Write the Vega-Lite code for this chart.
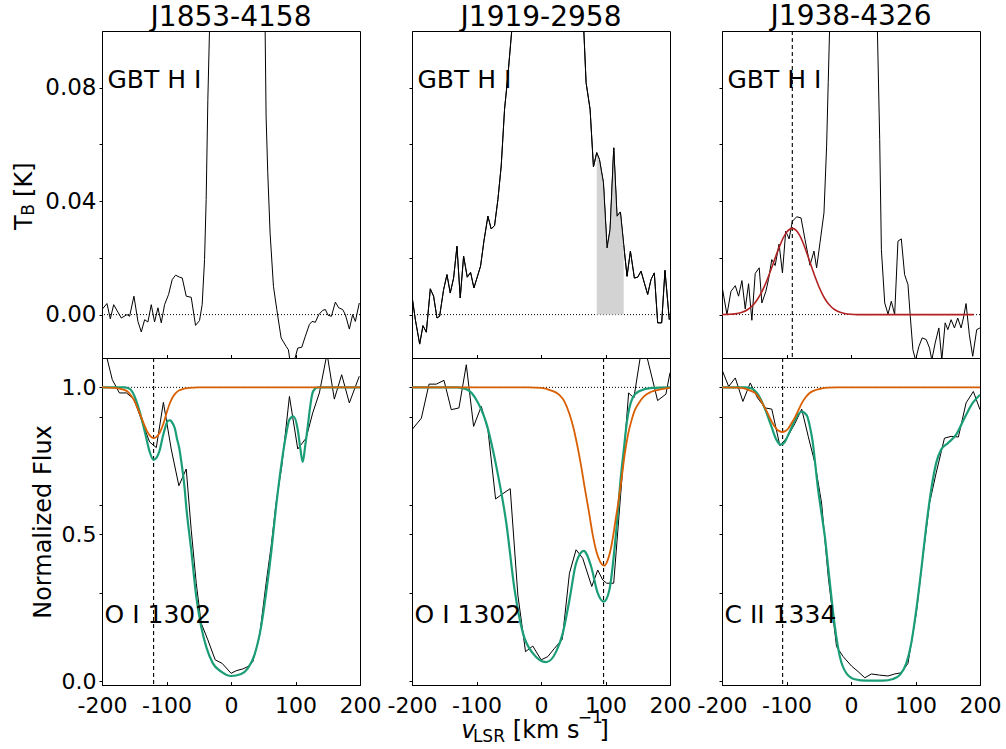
{
"$schema": "https://vega.github.io/schema/vega-lite/v6.json",
"padding": {"left": 12, "top": 2, "right": 0, "bottom": 0},
"config": {
  "font": "DejaVu Sans",
  "view": {"stroke": "black", "strokeWidth": 1},
  "axis": {"grid": false, "domainColor": "black", "domainWidth": 1, "tickColor": "black", "tickWidth": 1, "labelColor": "black", "labelFont": "DejaVu Sans", "labelFontSize": 22, "titleFont": "DejaVu Sans", "titleFontSize": 24, "titleFontWeight": "normal", "titleColor": "black", "labelFlush": false, "labelOverlap": false},
  "axisX": {"tickSize": -3.5, "labelPadding": 14},
  "axisY": {"tickSize": 3, "labelPadding": 3},
  "title": {"font": "DejaVu Sans", "fontSize": 28, "fontWeight": "normal", "color": "black", "frame": "group", "baseline": "alphabetic", "offset": -1}
},
"datasets": {
"hi1": [{"v":-200,"f":0.0018},{"v":-192.3,"f":0.0039},{"v":-187.1,"f":-0.0015},{"v":-181.9,"f":0.0035},{"v":-170.1,"f":-0.0012},{"v":-161.3,"f":0},{"v":-157.2,"f":-0.0006},{"v":-150.5,"f":0.0065},{"v":-144.3,"f":-0.0024},{"v":-139.1,"f":-0.0061},{"v":-133.9,"f":-0.0018},{"v":-128.8,"f":-0.0026},{"v":-123.6,"f":0.0035},{"v":-118.5,"f":-0.0026},{"v":-113.3,"f":0.0024},{"v":-108.1,"f":-0.0029},{"v":-103,"f":0.0035},{"v":-96.8,"f":0.0071},{"v":-91.1,"f":0.0124},{"v":-85.9,"f":0.0139},{"v":-79.7,"f":0.0132},{"v":-75.6,"f":0.0129},{"v":-69.4,"f":0.0065},{"v":-61.7,"f":0.0061},{"v":-55,"f":-0.0038},{"v":-48.8,"f":-0.0021},{"v":-44.7,"f":0.0035},{"v":-41,"f":0.0194},{"v":-38.5,"f":0.0406},{"v":-35.9,"f":0.0759},{"v":-33.3,"f":0.1006},{"v":-30,"f":0.14},{"v":-25,"f":0.22},{"v":-20,"f":0.32},{"v":-10,"f":0.5},{"v":0,"f":0.6},{"v":10,"f":0.6},{"v":20,"f":0.5},{"v":30,"f":0.4},{"v":40,"f":0.3},{"v":45,"f":0.2},{"v":50,"f":0.13},{"v":52.9,"f":0.1006},{"v":54.4,"f":0.07},{"v":57,"f":0.05},{"v":60.6,"f":0.0288},{"v":65.8,"f":0.01},{"v":71,"f":0.0018},{"v":77.7,"f":-0.0082},{"v":85.4,"f":-0.0112},{"v":89,"f":-0.0124},{"v":91.6,"f":-0.0165},{"v":95.7,"f":-0.017},{"v":99.3,"f":-0.0153},{"v":103.5,"f":-0.0118},{"v":109.7,"f":-0.0115},{"v":115.3,"f":-0.0076},{"v":121.5,"f":-0.0035},{"v":125.7,"f":-0.0024},{"v":130.8,"f":-0.0027},{"v":136,"f":0},{"v":142.2,"f":0.0015},{"v":146.3,"f":0.0018},{"v":150.4,"f":-0.0002},{"v":155.6,"f":-0.0006},{"v":161.8,"f":0.0044},{"v":167,"f":0.0024},{"v":173.1,"f":0.0018},{"v":177.3,"f":0},{"v":183.5,"f":-0.0051},{"v":188.6,"f":0},{"v":192.8,"f":-0.0024},{"v":198.9,"f":0.0041}],
"hi2": [{"v":-200,"f":0.0065},{"v":-194.8,"f":-0.0018},{"v":-188.1,"f":-0.0104},{"v":-183,"f":-0.0039},{"v":-177.8,"f":-0.0062},{"v":-171.6,"f":0.0091},{"v":-166.5,"f":0.0065},{"v":-161.3,"f":-0.0012},{"v":-157.2,"f":-0.0006},{"v":-151,"f":0.0088},{"v":-145.8,"f":0.0141},{"v":-140.7,"f":0.0076},{"v":-135.5,"f":0.0129},{"v":-130.3,"f":0.0241},{"v":-125.2,"f":0.0059},{"v":-120,"f":0.0206},{"v":-114.3,"f":0.0132},{"v":-109.2,"f":0.0149},{"v":-104,"f":0.0094},{"v":-93.7,"f":0.0171},{"v":-88.5,"f":0.0259},{"v":-82.3,"f":0.0347},{"v":-77.2,"f":0.0302},{"v":-72,"f":0.0314},{"v":-66.8,"f":0.0406},{"v":-61.7,"f":0.0524},{"v":-56.5,"f":0.0724},{"v":-51.4,"f":0.0841},{"v":-45.2,"f":0.1006},{"v":-40,"f":0.13},{"v":-30,"f":0.2},{"v":-20,"f":0.3},{"v":0,"f":0.45},{"v":20,"f":0.4},{"v":40,"f":0.3},{"v":55,"f":0.18},{"v":62,"f":0.12},{"v":66.3,"f":0.1006},{"v":69.9,"f":0.0818},{"v":76.1,"f":0.0724},{"v":81.3,"f":0.0521},{"v":86.4,"f":0.0571},{"v":90.6,"f":0.0547},{"v":96.8,"f":0.0465},{"v":102.4,"f":0.0235},{"v":107.1,"f":0.03},{"v":112.8,"f":0.0588},{"v":117.9,"f":0.0347},{"v":123.1,"f":0.0362},{"v":128.2,"f":0.0247},{"v":133.4,"f":0.0135},{"v":138.6,"f":0.0224},{"v":144.8,"f":0.0129},{"v":149.9,"f":0.0132},{"v":155.1,"f":0.0153},{"v":160.2,"f":0.0112},{"v":165.4,"f":0.0071},{"v":170.6,"f":0.0124},{"v":175.7,"f":0.0147},{"v":180.9,"f":-0.0029},{"v":187.1,"f":-0.0029},{"v":192.2,"f":0.0156},{"v":198.9,"f":-0.0018}],
"hi3": [{"v":-200,"f":0.01},{"v":-192.3,"f":0},{"v":-186.1,"f":0.0082},{"v":-179.4,"f":0.0102},{"v":-174.3,"f":0.0065},{"v":-169.1,"f":0.012},{"v":-164,"f":0.002},{"v":-158.8,"f":0.0109},{"v":-153.7,"f":-0.002},{"v":-148.5,"f":0.0145},{"v":-142.3,"f":0.0165},{"v":-138.2,"f":0.0041},{"v":-132,"f":0.0082},{"v":-127.9,"f":0.0124},{"v":-122.8,"f":0.0194},{"v":-117.6,"f":0.0173},{"v":-111.5,"f":0.0249},{"v":-106.3,"f":0.0147},{"v":-101.2,"f":0.0294},{"v":-96,"f":0.0267},{"v":-90.9,"f":0.0329},{"v":-84.2,"f":0.0345},{"v":-77.5,"f":0.0341},{"v":-71.3,"f":0.0265},{"v":-63.6,"f":0.0174},{"v":-57.4,"f":0.0224},{"v":-53.3,"f":0.0165},{"v":-48.1,"f":0.0253},{"v":-41.9,"f":0.0359},{"v":-37.8,"f":0.0594},{"v":-35.3,"f":0.0818},{"v":-33.2,"f":0.1006},{"v":-30,"f":0.13},{"v":-20,"f":0.25},{"v":0,"f":0.4},{"v":20,"f":0.3},{"v":35,"f":0.15},{"v":40.9,"f":0.1006},{"v":44.5,"f":0.0618},{"v":47.1,"f":0.0229},{"v":52.3,"f":0.0041},{"v":57.4,"f":0.0002},{"v":62.5,"f":0.0047},{"v":67.7,"f":0},{"v":72.8,"f":0.0259},{"v":78,"f":0.0267},{"v":83.1,"f":0.0141},{"v":88.3,"f":0.0106},{"v":91.9,"f":-0.0006},{"v":96,"f":-0.0124},{"v":100.1,"f":-0.016},{"v":105.3,"f":-0.0112},{"v":110.4,"f":-0.0082},{"v":116.6,"f":-0.0088},{"v":121.8,"f":-0.0118},{"v":125.3,"f":-0.016},{"v":130.5,"f":-0.01},{"v":136.2,"f":-0.0047},{"v":140.8,"f":-0.016},{"v":146,"f":-0.0029},{"v":150.1,"f":-0.0053},{"v":155.2,"f":-0.0018},{"v":160.4,"f":-0.0047},{"v":165.5,"f":-0.0012},{"v":170.7,"f":-0.0047},{"v":174.3,"f":-0.0012},{"v":178.4,"f":0.0039},{"v":183.5,"f":-0.0071},{"v":188.7,"f":-0.0147},{"v":194.9,"f":-0.0053},{"v":200,"f":-0.0047}],
"red3": [{"v":-200,"f":0.00003},{"v":-190,"f":0.00009},{"v":-180,"f":0.00027},{"v":-170,"f":0.00074},{"v":-160,"f":0.0018},{"v":-155,"f":0.0027},{"v":-150,"f":0.0038},{"v":-145,"f":0.0054},{"v":-140,"f":0.0073},{"v":-135,"f":0.0096},{"v":-130,"f":0.0123},{"v":-125,"f":0.0153},{"v":-120,"f":0.0184},{"v":-115,"f":0.0216},{"v":-110,"f":0.0245},{"v":-105,"f":0.0271},{"v":-100,"f":0.029},{"v":-95,"f":0.0301},{"v":-91,"f":0.0304},{"v":-85,"f":0.0297},{"v":-80,"f":0.0281},{"v":-75,"f":0.0257},{"v":-70,"f":0.0227},{"v":-65,"f":0.0194},{"v":-60,"f":0.0161},{"v":-55,"f":0.0129},{"v":-50,"f":0.01},{"v":-45,"f":0.0075},{"v":-40,"f":0.0054},{"v":-35,"f":0.0038},{"v":-30,"f":0.0026},{"v":-25,"f":0.0017},{"v":-20,"f":0.0011},{"v":-10,"f":0.0004},{"v":0,"f":0.0001},{"v":10,"f":0},{"v":190,"f":0}],
"uv1": [{"v":-200,"f":1.2},{"v":-193,"f":1.106},{"v":-184,"f":1.026},{"v":-173,"f":0.981},{"v":-162,"f":0.981},{"v":-150.5,"f":0.96},{"v":-136.5,"f":0.875},{"v":-126.2,"f":0.814},{"v":-115.8,"f":0.795},{"v":-104.8,"f":0.949},{"v":-92.7,"f":0.79},{"v":-80.8,"f":0.665},{"v":-69.4,"f":0.722},{"v":-61.7,"f":0.515},{"v":-53.9,"f":0.333},{"v":-46.2,"f":0.197},{"v":-35.9,"f":0.14},{"v":-24.5,"f":0.072},{"v":-13.7,"f":0.06},{"v":0.2,"f":0.026},{"v":8,"f":0.035},{"v":18.3,"f":0.041},{"v":26.1,"f":0.049},{"v":33.8,"f":0.066},{"v":44.1,"f":0.151},{"v":54.4,"f":0.333},{"v":62.2,"f":0.458},{"v":69.9,"f":0.606},{"v":78.7,"f":0.731},{"v":90.6,"f":0.969},{"v":103.5,"f":0.79},{"v":116.4,"f":0.827},{"v":126.7,"f":0.913},{"v":137,"f":0.981},{"v":148.9,"f":1.115},{"v":160.2,"f":0.96},{"v":171.6,"f":1.043},{"v":183.5,"f":0.947},{"v":198.9,"f":1.038}],
"g1": [{"v":-200,"f":1},{"v":-165,"f":1},{"v":-157,"f":0.995},{"v":-152,"f":0.981},{"v":-147,"f":0.955},{"v":-141.6,"f":0.918},{"v":-136,"f":0.87},{"v":-131.3,"f":0.827},{"v":-126,"f":0.78},{"v":-120,"f":0.753},{"v":-115,"f":0.762},{"v":-110.7,"f":0.785},{"v":-106,"f":0.83},{"v":-102.9,"f":0.856},{"v":-97.8,"f":0.886},{"v":-94,"f":0.888},{"v":-91,"f":0.879},{"v":-87,"f":0.86},{"v":-83.9,"f":0.827},{"v":-80,"f":0.79},{"v":-77.1,"f":0.748},{"v":-71.9,"f":0.657},{"v":-69.4,"f":0.594},{"v":-61.7,"f":0.447},{"v":-53.9,"f":0.288},{"v":-46.2,"f":0.185},{"v":-38.5,"f":0.117},{"v":-28.1,"f":0.06},{"v":-15.2,"f":0.032},{"v":0.2,"f":0.017},{"v":15.7,"f":0.024},{"v":26.1,"f":0.043},{"v":36.4,"f":0.089},{"v":46.7,"f":0.185},{"v":54.4,"f":0.299},{"v":62.2,"f":0.435},{"v":69.9,"f":0.594},{"v":77.7,"f":0.731},{"v":85.4,"f":0.839},{"v":90.6,"f":0.89},{"v":96.8,"f":0.901},{"v":103.5,"f":0.856},{"v":107.6,"f":0.79},{"v":111.2,"f":0.746},{"v":115,"f":0.8},{"v":119,"f":0.867},{"v":122.5,"f":0.93},{"v":125.7,"f":0.975},{"v":130,"f":0.995},{"v":135,"f":1},{"v":200,"f":1}],
"o1": [{"v":-200,"f":1},{"v":-180,"f":0.998},{"v":-170,"f":0.994},{"v":-160,"f":0.985},{"v":-155,"f":0.972},{"v":-150,"f":0.955},{"v":-145,"f":0.93},{"v":-140,"f":0.903},{"v":-135,"f":0.875},{"v":-130,"f":0.85},{"v":-125,"f":0.834},{"v":-120,"f":0.827},{"v":-115,"f":0.832},{"v":-110,"f":0.848},{"v":-105,"f":0.875},{"v":-100,"f":0.912},{"v":-95,"f":0.945},{"v":-90,"f":0.968},{"v":-85,"f":0.982},{"v":-80,"f":0.99},{"v":-75,"f":0.994},{"v":-65,"f":0.998},{"v":-50,"f":1},{"v":200,"f":1}],
"uv2": [{"v":-200,"f":0.856},{"v":-185.5,"f":0.895},{"v":-173.6,"f":1.011},{"v":-162.3,"f":1.011},{"v":-150.4,"f":1.024},{"v":-139.1,"f":0.924},{"v":-127.2,"f":0.93},{"v":-115.8,"f":1.077},{"v":-104.5,"f":0.867},{"v":-92.6,"f":0.935},{"v":-82.3,"f":0.856},{"v":-70.4,"f":0.62},{"v":-59.1,"f":0.638},{"v":-47.7,"f":0.655},{"v":-35.9,"f":0.293},{"v":-24,"f":0.1},{"v":-12.7,"f":0.119},{"v":0.2,"f":0.072},{"v":10.5,"f":0.083},{"v":20.8,"f":0.111},{"v":33,"f":0.142},{"v":44.1,"f":0.367},{"v":54.4,"f":0.447},{"v":64.7,"f":0.418},{"v":78.7,"f":0.322},{"v":88,"f":0.378},{"v":95.7,"f":0.344},{"v":101.9,"f":0.333},{"v":112.7,"f":0.333},{"v":135.9,"f":0.981},{"v":144,"f":0.964},{"v":158,"f":1.16},{"v":180.8,"f":0.955},{"v":193.7,"f":0.977},{"v":200,"f":1.05}],
"g2": [{"v":-200,"f":1},{"v":-130,"f":1},{"v":-115.8,"f":0.994},{"v":-100.3,"f":0.958},{"v":-84.8,"f":0.878},{"v":-69.3,"f":0.731},{"v":-53.8,"f":0.538},{"v":-40.9,"f":0.31},{"v":-28,"f":0.163},{"v":-12.5,"f":0.094},{"v":8,"f":0.064},{"v":23.5,"f":0.1},{"v":33.8,"f":0.163},{"v":44.1,"f":0.276},{"v":54.4,"f":0.401},{"v":66.3,"f":0.443},{"v":77.7,"f":0.39},{"v":88,"f":0.299},{"v":97.3,"f":0.27},{"v":106,"f":0.31},{"v":113.8,"f":0.447},{"v":119,"f":0.57},{"v":124,"f":0.7},{"v":128,"f":0.78},{"v":133,"f":0.88},{"v":142,"f":0.964},{"v":152,"f":0.987},{"v":173,"f":0.998},{"v":200,"f":1}],
"o2": [{"v":-200,"f":1},{"v":-20,"f":1},{"v":0,"f":0.998},{"v":15,"f":0.99},{"v":28,"f":0.975},{"v":36,"f":0.953},{"v":44,"f":0.91},{"v":50,"f":0.865},{"v":56,"f":0.805},{"v":62,"f":0.735},{"v":68,"f":0.655},{"v":74,"f":0.58},{"v":80,"f":0.5},{"v":86,"f":0.44},{"v":92,"f":0.405},{"v":98,"f":0.393},{"v":104,"f":0.415},{"v":110,"f":0.47},{"v":115,"f":0.54},{"v":120,"f":0.61},{"v":125,"f":0.69},{"v":130,"f":0.775},{"v":135,"f":0.84},{"v":140,"f":0.885},{"v":145,"f":0.92},{"v":150,"f":0.941},{"v":160,"f":0.97},{"v":170,"f":0.984},{"v":185,"f":0.993},{"v":200,"f":0.998}],
"uv3": [{"v":-200,"f":1.06},{"v":-189.7,"f":1.003},{"v":-179.4,"f":1.032},{"v":-167.6,"f":0.952},{"v":-156.2,"f":1.015},{"v":-144.9,"f":0.964},{"v":-133.1,"f":0.93},{"v":-122.8,"f":0.926},{"v":-110.2,"f":0.801},{"v":-98.6,"f":0.831},{"v":-86.7,"f":0.878},{"v":-76.4,"f":0.926},{"v":-66.2,"f":0.832},{"v":-55.9,"f":0.742},{"v":-45.6,"f":0.606},{"v":-35.3,"f":0.356},{"v":-22.4,"f":0.117},{"v":-12.1,"f":0.083},{"v":0.8,"f":0.051},{"v":11.1,"f":0.032},{"v":21.4,"f":0.011},{"v":31.7,"f":0.024},{"v":44.5,"f":0.02},{"v":57.4,"f":0.017},{"v":67.7,"f":0.024},{"v":78,"f":0.028},{"v":88.3,"f":0.06},{"v":101.2,"f":0.231},{"v":111.5,"f":0.424},{"v":121.8,"f":0.606},{"v":132,"f":0.708},{"v":144.9,"f":0.827},{"v":155.2,"f":0.833},{"v":166.5,"f":0.831},{"v":178.4,"f":0.947},{"v":189.7,"f":0.986},{"v":200,"f":0.924}],
"g3": [{"v":-200,"f":1},{"v":-165,"f":1},{"v":-155,"f":0.997},{"v":-144,"f":0.975},{"v":-134,"f":0.93},{"v":-123.4,"f":0.867},{"v":-115.7,"f":0.822},{"v":-108.9,"f":0.805},{"v":-102.7,"f":0.814},{"v":-97,"f":0.84},{"v":-92.4,"f":0.862},{"v":-86,"f":0.892},{"v":-82.2,"f":0.907},{"v":-76,"f":0.917},{"v":-72,"f":0.913},{"v":-67.8,"f":0.901},{"v":-63.6,"f":0.865},{"v":-59.5,"f":0.816},{"v":-55.5,"f":0.74},{"v":-51.3,"f":0.657},{"v":-47,"f":0.59},{"v":-43,"f":0.53},{"v":-40.4,"f":0.49},{"v":-36.5,"f":0.41},{"v":-32.7,"f":0.333},{"v":-25,"f":0.185},{"v":-17.3,"f":0.083},{"v":-7,"f":0.026},{"v":5.9,"f":0.006},{"v":23.9,"f":0.001},{"v":49.7,"f":0.001},{"v":65.1,"f":0.007},{"v":75.4,"f":0.02},{"v":85.7,"f":0.06},{"v":93.4,"f":0.128},{"v":101.2,"f":0.242},{"v":108.9,"f":0.378},{"v":116.6,"f":0.526},{"v":124.3,"f":0.651},{"v":132,"f":0.742},{"v":139.8,"f":0.788},{"v":150.1,"f":0.81},{"v":163,"f":0.839},{"v":175.8,"f":0.895},{"v":188.7,"f":0.947},{"v":200,"f":0.975}],
"o3": [{"v":-200,"f":1},{"v":-175,"f":0.999},{"v":-164.5,"f":0.996},{"v":-157,"f":0.99},{"v":-149,"f":0.981},{"v":-142,"f":0.963},{"v":-136.2,"f":0.941},{"v":-131,"f":0.92},{"v":-125.9,"f":0.896},{"v":-120.8,"f":0.875},{"v":-115.7,"f":0.859},{"v":-111,"f":0.851},{"v":-106.9,"f":0.848},{"v":-102,"f":0.851},{"v":-97.6,"f":0.859},{"v":-92.5,"f":0.877},{"v":-87.3,"f":0.896},{"v":-82,"f":0.92},{"v":-77.1,"f":0.943},{"v":-70,"f":0.967},{"v":-64.1,"f":0.981},{"v":-55,"f":0.991},{"v":-46.2,"f":0.996},{"v":-35,"f":0.999},{"v":-20,"f":1},{"v":200,"f":1}]
},
"columns": 3,
"spacing": {"row": 0, "column": 52},
"bounds": "flush",
"concat": [
{
 "width": 258, "height": 327,
 "title": {"text": "J1853-4158"},
 "layer": [
  {"data": {"name": "hi1"}, "mark": {"type": "line", "color": "black", "strokeWidth": 1, "clip": true},
   "encoding": {"x": {"field": "v", "type": "quantitative", "scale": {"domain": [-200, 200], "nice": false, "zero": false}, "axis": {"values": [-200,-150,-100,-50,0,50,100,150,200], "labels": false, "title": null}},
                "y": {"field": "f", "type": "quantitative", "scale": {"domain": [-0.0153, 0.1], "nice": false, "zero": false}, "axis": {"values": [0,0.02,0.04,0.06,0.08], "labelFontSize": 23, "labelExpr": "(abs(datum.value-0.02)<1e-9 || abs(datum.value-0.06)<1e-9) ? '' : format(datum.value, '.2f')", "title": null}}}},
  {"data": {"values": [{}]}, "mark": {"type": "rule", "strokeDash": [1, 2], "color": "black", "strokeWidth": 1}, "encoding": {"y": {"datum": 0, "type": "quantitative"}}},
  {"data": {"values": [{}]}, "mark": {"type": "text", "text": "GBT H I", "align": "left", "baseline": "alphabetic", "fontSize": 25, "color": "black"}, "encoding": {"x": {"datum": -191.5, "type": "quantitative"}, "y": {"datum": 0.08, "type": "quantitative"}}},
  {"data": {"values": [{}]}, "mark": {"type": "text", "text": "T", "align": "left", "baseline": "alphabetic", "fontSize": 24, "angle": 270, "color": "black"}, "encoding": {"x": {"datum": -309, "type": "quantitative"}, "y": {"datum": 0.0298, "type": "quantitative"}}},
  {"data": {"values": [{}]}, "mark": {"type": "text", "text": "B", "align": "left", "baseline": "alphabetic", "fontSize": 17, "angle": 270, "color": "black"}, "encoding": {"x": {"datum": -305.5, "type": "quantitative"}, "y": {"datum": 0.0349, "type": "quantitative"}}},
  {"data": {"values": [{}]}, "mark": {"type": "text", "text": "[K]", "align": "left", "baseline": "alphabetic", "fontSize": 24, "angle": 270, "color": "black"}, "encoding": {"x": {"datum": -309, "type": "quantitative"}, "y": {"datum": 0.0415, "type": "quantitative"}}}
 ]
},
{
 "width": 258, "height": 327,
 "title": {"text": "J1919-2958"},
 "layer": [
  {"data": {"name": "hi2"}, "mark": {"type": "line", "color": "black", "strokeWidth": 1, "clip": true},
   "encoding": {"x": {"field": "v", "type": "quantitative", "scale": {"domain": [-200, 200], "nice": false, "zero": false}, "axis": {"values": [-200,-150,-100,-50,0,50,100,150,200], "labels": false, "title": null}},
                "y": {"field": "f", "type": "quantitative", "scale": {"domain": [-0.0153, 0.1], "nice": false, "zero": false}, "axis": {"values": [0,0.02,0.04,0.06,0.08], "labels": false, "title": null}}}},
  {"data": {"values": [{}]}, "mark": {"type": "rule", "strokeDash": [1, 2], "color": "black", "strokeWidth": 1}, "encoding": {"y": {"datum": 0, "type": "quantitative"}}},
  {"data": {"name": "hi2"}, "transform": [{"filter": "datum.v >= 86 && datum.v <= 130"}], "mark": {"type": "area", "color": "#d3d3d3", "opacity": 1, "clip": true},
   "encoding": {"x": {"field": "v", "type": "quantitative"}, "y": {"field": "f", "type": "quantitative"}, "y2": {"datum": 0}}},
  {"data": {"name": "hi2"}, "mark": {"type": "line", "color": "black", "strokeWidth": 1, "clip": true},
   "encoding": {"x": {"field": "v", "type": "quantitative"}, "y": {"field": "f", "type": "quantitative"}}},
  {"data": {"values": [{}]}, "mark": {"type": "text", "text": "GBT H I", "align": "left", "baseline": "alphabetic", "fontSize": 25, "color": "black"}, "encoding": {"x": {"datum": -191.5, "type": "quantitative"}, "y": {"datum": 0.08, "type": "quantitative"}}}
 ]
},
{
 "width": 258, "height": 327,
 "title": {"text": "J1938-4326"},
 "layer": [
  {"data": {"name": "hi3"}, "mark": {"type": "line", "color": "black", "strokeWidth": 1, "clip": true},
   "encoding": {"x": {"field": "v", "type": "quantitative", "scale": {"domain": [-200, 200], "nice": false, "zero": false}, "axis": {"values": [-200,-150,-100,-50,0,50,100,150,200], "labels": false, "title": null}},
                "y": {"field": "f", "type": "quantitative", "scale": {"domain": [-0.0153, 0.1], "nice": false, "zero": false}, "axis": {"values": [0,0.02,0.04,0.06,0.08], "labels": false, "title": null}}}},
  {"data": {"values": [{}]}, "mark": {"type": "rule", "strokeDash": [1, 2], "color": "black", "strokeWidth": 1}, "encoding": {"y": {"datum": 0, "type": "quantitative"}}},
  {"data": {"values": [{}]}, "mark": {"type": "rule", "strokeDash": [4, 3], "color": "black", "strokeWidth": 1.1}, "encoding": {"x": {"datum": -91, "type": "quantitative"}}},
  {"data": {"name": "red3"}, "mark": {"type": "line", "color": "#b22222", "strokeWidth": 1.6, "interpolate": "monotone", "clip": true},
   "encoding": {"x": {"field": "v", "type": "quantitative"}, "y": {"field": "f", "type": "quantitative"}}},
  {"data": {"values": [{}]}, "mark": {"type": "text", "text": "GBT H I", "align": "left", "baseline": "alphabetic", "fontSize": 25, "color": "black"}, "encoding": {"x": {"datum": -191.5, "type": "quantitative"}, "y": {"datum": 0.08, "type": "quantitative"}}}
 ]
},
{
 "width": 258, "height": 327,
 "layer": [
  {"data": {"name": "uv1"}, "mark": {"type": "line", "color": "black", "strokeWidth": 1, "clip": true},
   "encoding": {"x": {"field": "v", "type": "quantitative", "scale": {"domain": [-200, 200], "nice": false, "zero": false}, "axis": {"values": [-200,-150,-100,-50,0,50,100,150,200], "labelExpr": "datum.value % 100 == 0 ? toString(datum.value) : ''", "title": null}},
                "y": {"field": "f", "type": "quantitative", "scale": {"domain": [-0.0136, 1.1], "nice": false, "zero": false}, "axis": {"values": [0,0.3,0.5,0.6,0.9,1.0], "labelExpr": "(abs(datum.value)<1e-9 || abs(datum.value-0.5)<1e-9 || abs(datum.value-1)<1e-9) ? format(datum.value, '.1f') : ''", "title": "Normalized Flux", "titlePadding": 6}}}},
  {"data": {"values": [{}]}, "mark": {"type": "rule", "strokeDash": [1, 2], "color": "black", "strokeWidth": 1}, "encoding": {"y": {"datum": 1, "type": "quantitative"}}},
  {"data": {"values": [{}]}, "mark": {"type": "rule", "strokeDash": [4, 3], "color": "black", "strokeWidth": 1.1}, "encoding": {"x": {"datum": -120, "type": "quantitative"}}},
  {"data": {"name": "g1"}, "mark": {"type": "line", "color": "#1b9e77", "strokeWidth": 2.2, "interpolate": "monotone", "clip": true}, "encoding": {"x": {"field": "v", "type": "quantitative"}, "y": {"field": "f", "type": "quantitative"}}},
  {"data": {"name": "o1"}, "mark": {"type": "line", "color": "#d95f02", "strokeWidth": 1.8, "interpolate": "monotone", "clip": true}, "encoding": {"x": {"field": "v", "type": "quantitative"}, "y": {"field": "f", "type": "quantitative"}}},
  {"data": {"values": [{}]}, "mark": {"type": "text", "text": "O I 1302", "align": "left", "baseline": "alphabetic", "fontSize": 25, "color": "black"}, "encoding": {"x": {"datum": -196, "type": "quantitative"}, "y": {"datum": 0.197, "type": "quantitative"}}}
 ]
},
{
 "width": 258, "height": 327,
 "layer": [
  {"data": {"name": "uv2"}, "mark": {"type": "line", "color": "black", "strokeWidth": 1, "clip": true},
   "encoding": {"x": {"field": "v", "type": "quantitative", "scale": {"domain": [-200, 200], "nice": false, "zero": false}, "axis": {"values": [-200,-150,-100,-50,0,50,100,150,200], "labelExpr": "datum.value % 100 == 0 ? toString(datum.value) : ''", "title": null}},
                "y": {"field": "f", "type": "quantitative", "scale": {"domain": [-0.0136, 1.1], "nice": false, "zero": false}, "axis": {"values": [0,0.3,0.5,0.6,0.9,1.0], "labels": false, "title": null}}}},
  {"data": {"values": [{}]}, "mark": {"type": "rule", "strokeDash": [1, 2], "color": "black", "strokeWidth": 1}, "encoding": {"y": {"datum": 1, "type": "quantitative"}}},
  {"data": {"values": [{}]}, "mark": {"type": "rule", "strokeDash": [4, 3], "color": "black", "strokeWidth": 1.1}, "encoding": {"x": {"datum": 97, "type": "quantitative"}}},
  {"data": {"name": "g2"}, "mark": {"type": "line", "color": "#1b9e77", "strokeWidth": 2.2, "interpolate": "monotone", "clip": true}, "encoding": {"x": {"field": "v", "type": "quantitative"}, "y": {"field": "f", "type": "quantitative"}}},
  {"data": {"name": "o2"}, "mark": {"type": "line", "color": "#d95f02", "strokeWidth": 1.8, "interpolate": "monotone", "clip": true}, "encoding": {"x": {"field": "v", "type": "quantitative"}, "y": {"field": "f", "type": "quantitative"}}},
  {"data": {"values": [{}]}, "mark": {"type": "text", "text": "O I 1302", "align": "left", "baseline": "alphabetic", "fontSize": 25, "color": "black"}, "encoding": {"x": {"datum": -196, "type": "quantitative"}, "y": {"datum": 0.197, "type": "quantitative"}}},
  {"data": {"values": [{}]}, "mark": {"type": "text", "text": "v", "align": "left", "baseline": "alphabetic", "fontSize": 24, "fontStyle": "italic", "color": "black"}, "encoding": {"x": {"datum": -123.5, "type": "quantitative"}, "y": {"datum": -0.195, "type": "quantitative"}}},
  {"data": {"values": [{}]}, "mark": {"type": "text", "text": "LSR", "align": "left", "baseline": "alphabetic", "fontSize": 17, "color": "black"}, "encoding": {"x": {"datum": -105.6, "type": "quantitative"}, "y": {"datum": -0.207, "type": "quantitative"}}},
  {"data": {"values": [{}]}, "mark": {"type": "text", "text": "[km s", "align": "left", "baseline": "alphabetic", "fontSize": 24, "color": "black"}, "encoding": {"x": {"datum": -43.7, "type": "quantitative"}, "y": {"datum": -0.195, "type": "quantitative"}}},
  {"data": {"values": [{}]}, "mark": {"type": "text", "text": "−1", "align": "left", "baseline": "alphabetic", "fontSize": 17, "color": "black"}, "encoding": {"x": {"datum": 57, "type": "quantitative"}, "y": {"datum": -0.144, "type": "quantitative"}}},
  {"data": {"values": [{}]}, "mark": {"type": "text", "text": "]", "align": "left", "baseline": "alphabetic", "fontSize": 24, "color": "black"}, "encoding": {"x": {"datum": 90.6, "type": "quantitative"}, "y": {"datum": -0.195, "type": "quantitative"}}}
 ]
},
{
 "width": 258, "height": 327,
 "layer": [
  {"data": {"name": "uv3"}, "mark": {"type": "line", "color": "black", "strokeWidth": 1, "clip": true},
   "encoding": {"x": {"field": "v", "type": "quantitative", "scale": {"domain": [-200, 200], "nice": false, "zero": false}, "axis": {"values": [-200,-150,-100,-50,0,50,100,150,200], "labelExpr": "datum.value % 100 == 0 ? toString(datum.value) : ''", "title": null}},
                "y": {"field": "f", "type": "quantitative", "scale": {"domain": [-0.0136, 1.1], "nice": false, "zero": false}, "axis": {"values": [0,0.3,0.5,0.6,0.9,1.0], "labels": false, "title": null}}}},
  {"data": {"values": [{}]}, "mark": {"type": "rule", "strokeDash": [1, 2], "color": "black", "strokeWidth": 1}, "encoding": {"y": {"datum": 1, "type": "quantitative"}}},
  {"data": {"values": [{}]}, "mark": {"type": "rule", "strokeDash": [4, 3], "color": "black", "strokeWidth": 1.1}, "encoding": {"x": {"datum": -106, "type": "quantitative"}}},
  {"data": {"name": "g3"}, "mark": {"type": "line", "color": "#1b9e77", "strokeWidth": 2.2, "interpolate": "monotone", "clip": true}, "encoding": {"x": {"field": "v", "type": "quantitative"}, "y": {"field": "f", "type": "quantitative"}}},
  {"data": {"name": "o3"}, "mark": {"type": "line", "color": "#d95f02", "strokeWidth": 1.8, "interpolate": "monotone", "clip": true}, "encoding": {"x": {"field": "v", "type": "quantitative"}, "y": {"field": "f", "type": "quantitative"}}},
  {"data": {"values": [{}]}, "mark": {"type": "text", "text": "C II 1334", "align": "left", "baseline": "alphabetic", "fontSize": 25, "color": "black"}, "encoding": {"x": {"datum": -196, "type": "quantitative"}, "y": {"datum": 0.197, "type": "quantitative"}}}
 ]
}
]
}
